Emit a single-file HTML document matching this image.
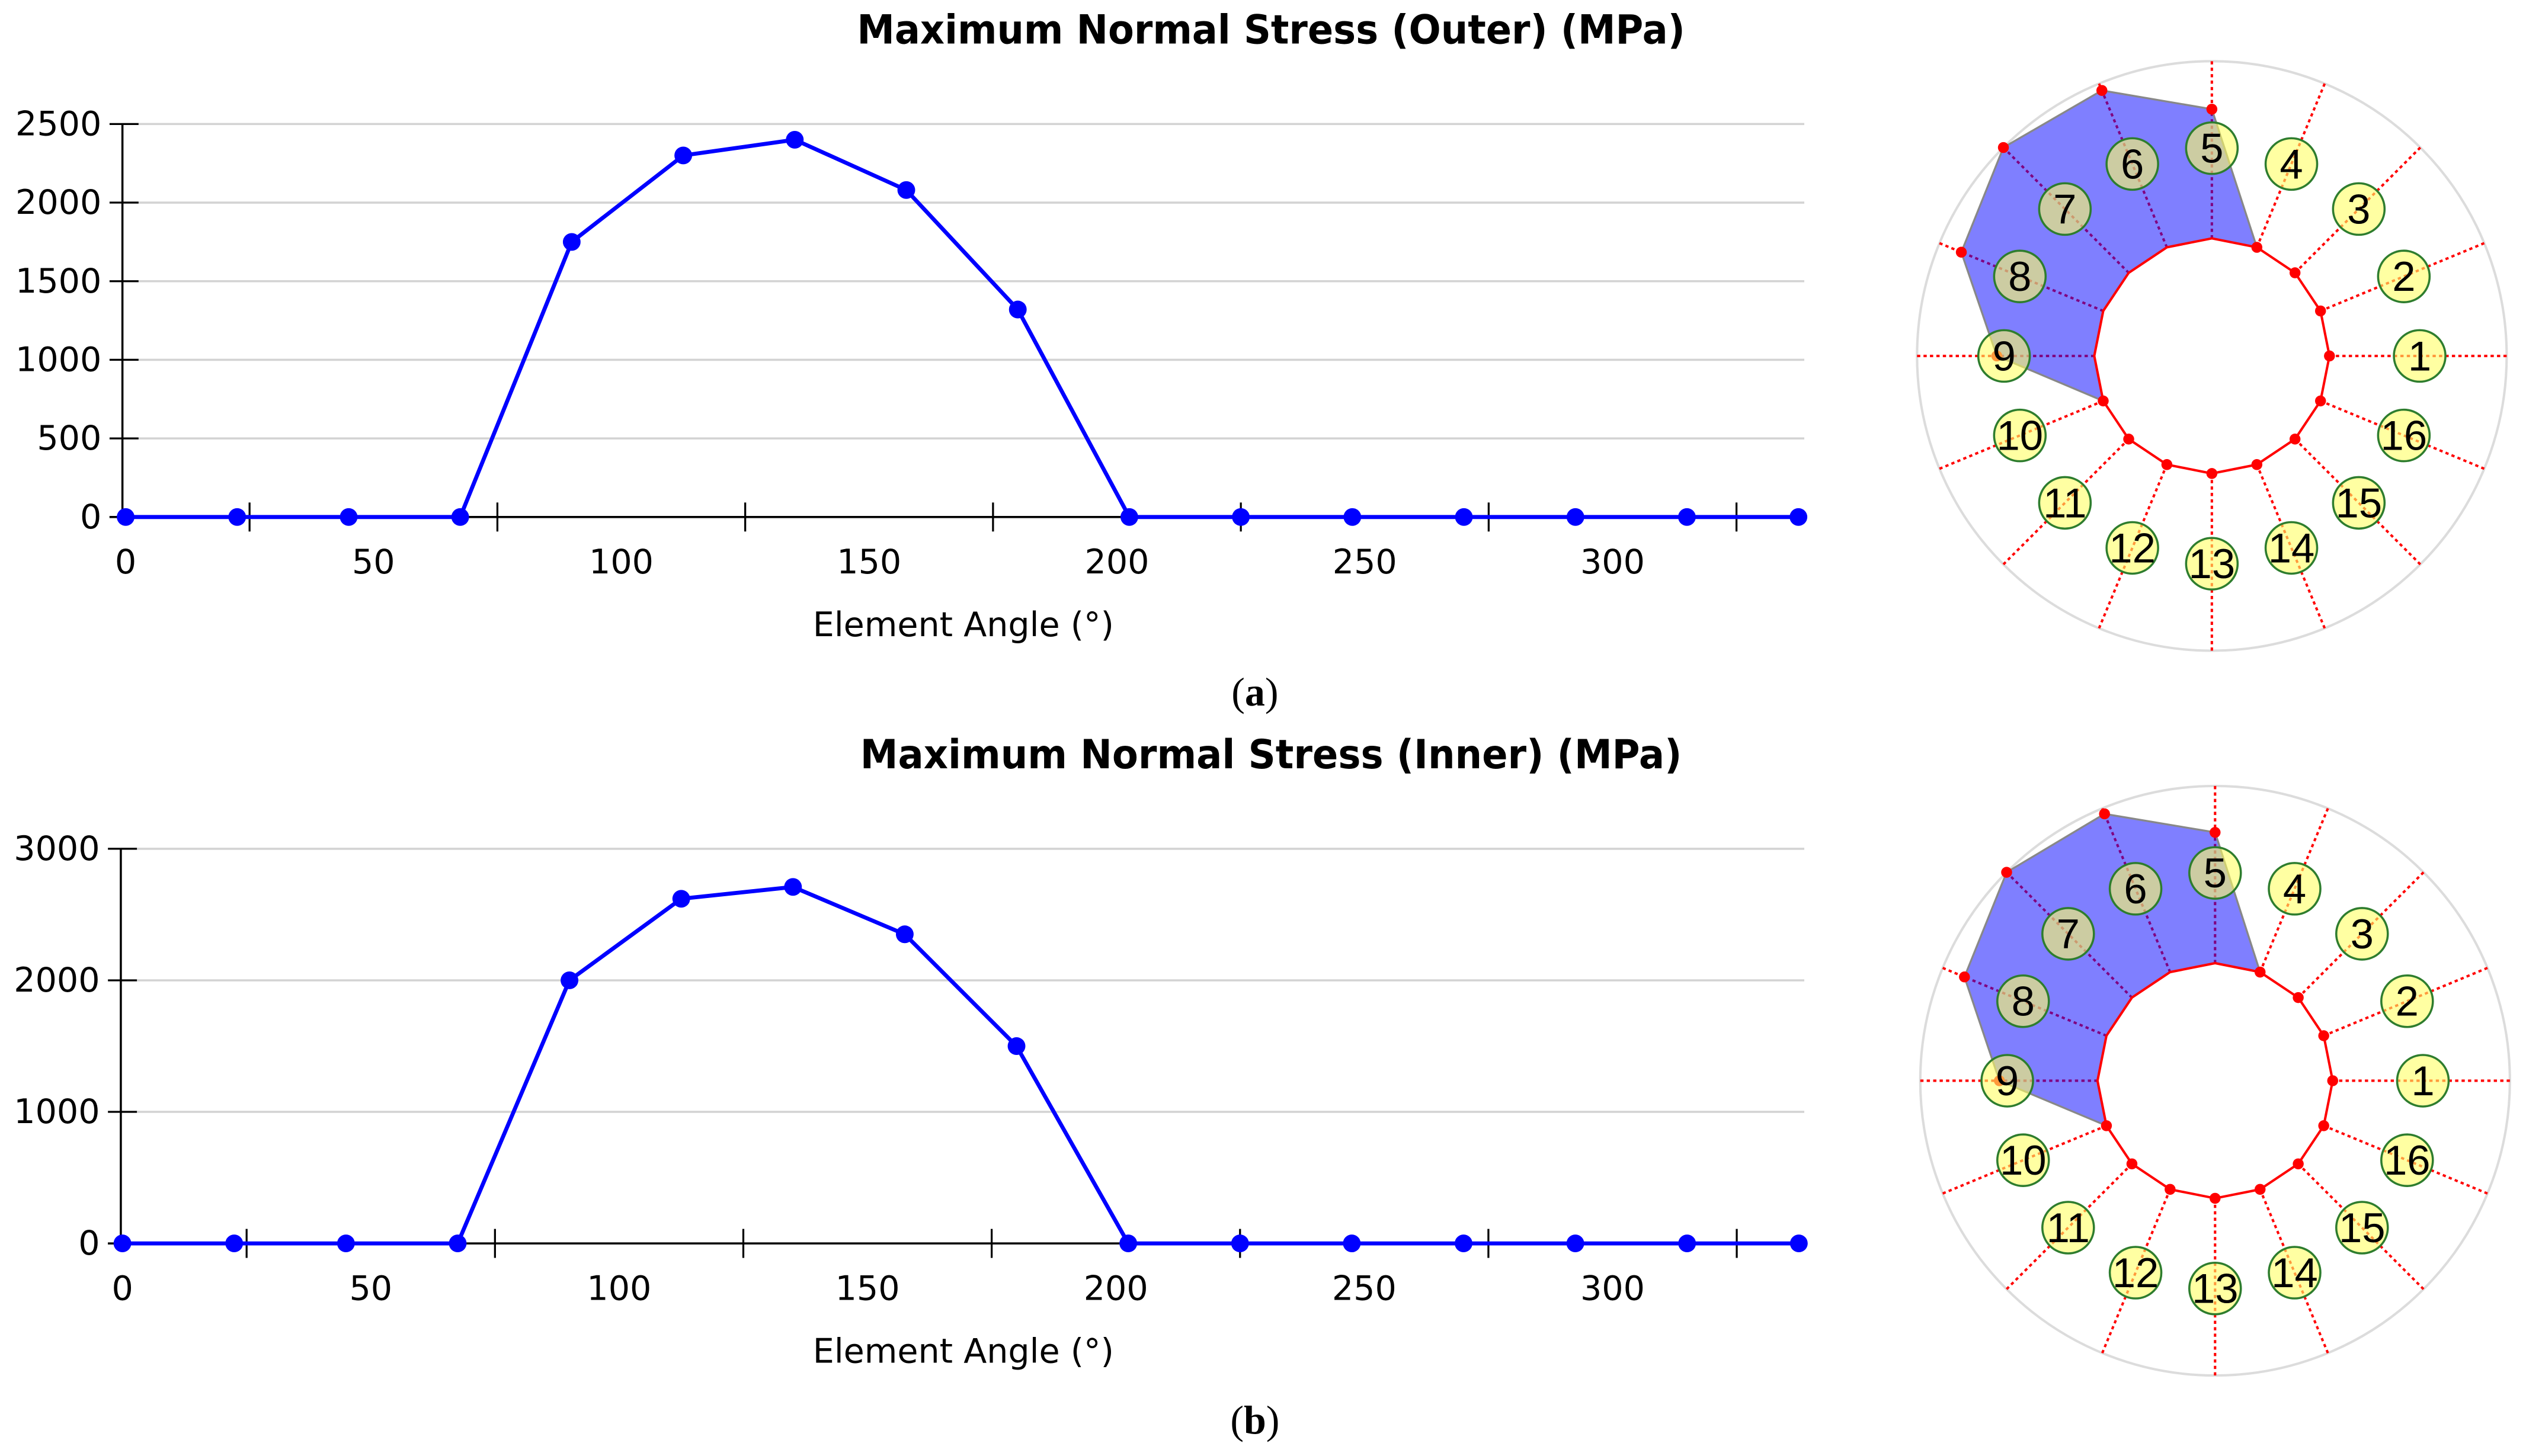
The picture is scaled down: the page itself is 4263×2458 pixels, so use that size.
<!DOCTYPE html>
<html><head><meta charset="utf-8"><style>
html,body{margin:0;padding:0;background:#fff;}
svg{display:block;}
</style></head><body>
<svg id="fig" xmlns="http://www.w3.org/2000/svg" width="4263" height="2458" viewBox="0 0 1568 904" preserveAspectRatio="none" font-family="'DejaVu Sans', 'Liberation Sans', sans-serif">
<rect width="1568" height="904" fill="#fff"/>
<text x="789" y="27" text-anchor="middle" font-weight="bold" font-size="25" textLength="514" lengthAdjust="spacingAndGlyphs">Maximum Normal Stress (Outer) (MPa)</text>
<text x="789" y="477" text-anchor="middle" font-weight="bold" font-size="25" textLength="510" lengthAdjust="spacingAndGlyphs">Maximum Normal Stress (Inner) (MPa)</text>
<text x="779" y="438" text-anchor="middle" font-family="'Liberation Serif', serif" font-size="25">(<tspan font-weight="bold">a</tspan>)</text>
<text x="779" y="890" text-anchor="middle" font-family="'Liberation Serif', serif" font-size="25">(<tspan font-weight="bold">b</tspan>)</text>
<g id="charts"></g>
</svg>
<script>
const angles = [0,22.5,45,67.5,90,112.5,135,157.5,180,202.5,225,247.5,270,292.5,315,337.5];
const outerValues = [0,0,0,0,1750,2300,2400,2080,1320,0,0,0,0,0,0,0];
const innerValues = [0,0,0,0,2000,2620,2710,2350,1500,0,0,0,0,0,0,0];
const outerYTicks = [0,500,1000,1500,2000,2500];
const innerYTicks = [0,1000,2000,3000];
const xTickLabels = [0,50,100,150,200,250,300];
const xTickMarks = [25,75,125,175,225,275,325];

const NS = 'http://www.w3.org/2000/svg';
const root = document.getElementById('charts');
function mk(tag, attrs, parent){
  const e = document.createElementNS(NS, tag);
  for (const k in attrs) e.setAttribute(k, attrs[k]);
  (parent||root).appendChild(e);
  return e;
}

function lineChart(cfg){
  const g = mk('g', {});
  
  
  const x = v => cfg.x0 + (v/300)*(cfg.x300 - cfg.x0);
  const y = v => cfg.yBase - (v/cfg.yMax)*(cfg.yBase - cfg.yTop);
  cfg.yTicks.forEach(t => {
    const gl = mk('line', {x1:cfg.axisX, x2:1120, y1:y(t), y2:y(t), stroke:'#d3d3d3', 'stroke-width':1.3}, g);
    
    
    const tk = mk('line', {x1:cfg.axisX-8, x2:cfg.axisX+10, y1:y(t), y2:y(t), stroke:'#000', 'stroke-width':1.2}, g);
    
    
    const lb = mk('text', {x:cfg.axisX-13, y:y(t)+7, 'text-anchor':'end', 'font-size':21}, g);
    lb.textContent = t;
    
    
  });
  const ya = mk('line', {x1:cfg.axisX, x2:cfg.axisX, y1:y(cfg.yMax), y2:cfg.yBase, stroke:'#000', 'stroke-width':1.3}, g);
  
  
  const xa = mk('line', {x1:cfg.axisX-8, x2:1120, y1:cfg.yBase, y2:cfg.yBase, stroke:'#000', 'stroke-width':1.3}, g);
  
  
  xTickMarks.forEach(t => {
    const tk = mk('line', {x1:x(t), x2:x(t), y1:cfg.yBase-9, y2:cfg.yBase+9, stroke:'#000', 'stroke-width':1.2}, g);
    
    
  });
  xTickLabels.forEach(t => {
    const lb = mk('text', {x:x(t), y:cfg.yBase+35, 'text-anchor':'middle', 'font-size':21}, g);
    lb.textContent = t;
    
    
  });
  const xt = mk('text', {x:598, y:cfg.yBase+74, 'text-anchor':'middle', 'font-size':21}, g);
  xt.textContent = 'Element Angle (°)';
  
  
  const pts = angles.map((a,i) => x(a)+','+y(cfg.values[i])).join(' ');
  const pl = mk('polyline', {points:pts, fill:'none', stroke:'#0000ff', 'stroke-width':2.5}, g);
  
  
  angles.forEach((a,i) => {
    const c = mk('circle', {cx:x(a), cy:y(cfg.values[i]), r:5.5, fill:'#0000ff'}, g);
    
    
  });
}

function polar(cfg){
  const g = mk('g', {});
  
  
  const cx = cfg.cx, cy = cfg.cy, R = 183, r0 = 73;
  const maxV = Math.max(...cfg.values);
  const rad = v => r0 + (v/maxV)*110;
  const P = (a, r) => [cx + r*Math.cos(a*Math.PI/180), cy - r*Math.sin(a*Math.PI/180)];
  const oc = mk('circle', {cx, cy, r:R, fill:'none', stroke:'#dcdcdc', 'stroke-width':1.5}, g);
  
  
  angles.forEach(a => {
    const p1 = P(a, r0), p2 = P(a, R);
    const l = mk('line', {x1:p1[0], y1:p1[1], x2:p2[0], y2:p2[1], stroke:'#ff0000', 'stroke-width':1.5, 'stroke-dasharray':'2,2'}, g);
    
    
  });
  const vp = angles.map((a,i) => P(a, rad(cfg.values[i])).join(',')).join(' ');
  const poly = mk('polygon', {points:vp, fill:'rgba(0,0,255,0.5)', stroke:'#888', 'stroke-width':1.2}, g);
  
  
  const ip = angles.map(a => P(a, r0).join(',')).join(' ');
  const inner = mk('polygon', {points:ip, fill:'#fff', stroke:'#ff0000', 'stroke-width':1.5}, g);
  
  
  angles.forEach((a,i) => {
    const p = P(a, rad(cfg.values[i]));
    const d = mk('circle', {cx:p[0], cy:p[1], r:3.4, fill:'#ff0000'}, g);
    
    
  });
  angles.forEach((a,i) => {
    const p = P(a, 129);
    const c = mk('circle', {cx:p[0], cy:p[1], r:16, fill:'rgba(255,255,100,0.6)', stroke:'#2e7d2e', 'stroke-width':1.3}, g);
    
    
    const t = mk('text', {x:p[0], y:p[1]+9, 'text-anchor':'middle', 'font-size':26, 'font-family':"'Liberation Sans', sans-serif"}, g);
    t.textContent = i+1;
    
    
  });
}

lineChart({name:'outer-stress-chart', values:outerValues, yTicks:outerYTicks, yMax:2500, yTop:77, yBase:321, x0:78, x300:1001, axisX:76});
lineChart({name:'inner-stress-chart', values:innerValues, yTicks:innerYTicks, yMax:3000, yTop:527, yBase:772, x0:76, x300:1001, axisX:75});
polar({name:'outer-polar-diagram', values:outerValues, cx:1373, cy:221});
polar({name:'inner-polar-diagram', values:innerValues, cx:1375, cy:671});
</script>
</body></html>
